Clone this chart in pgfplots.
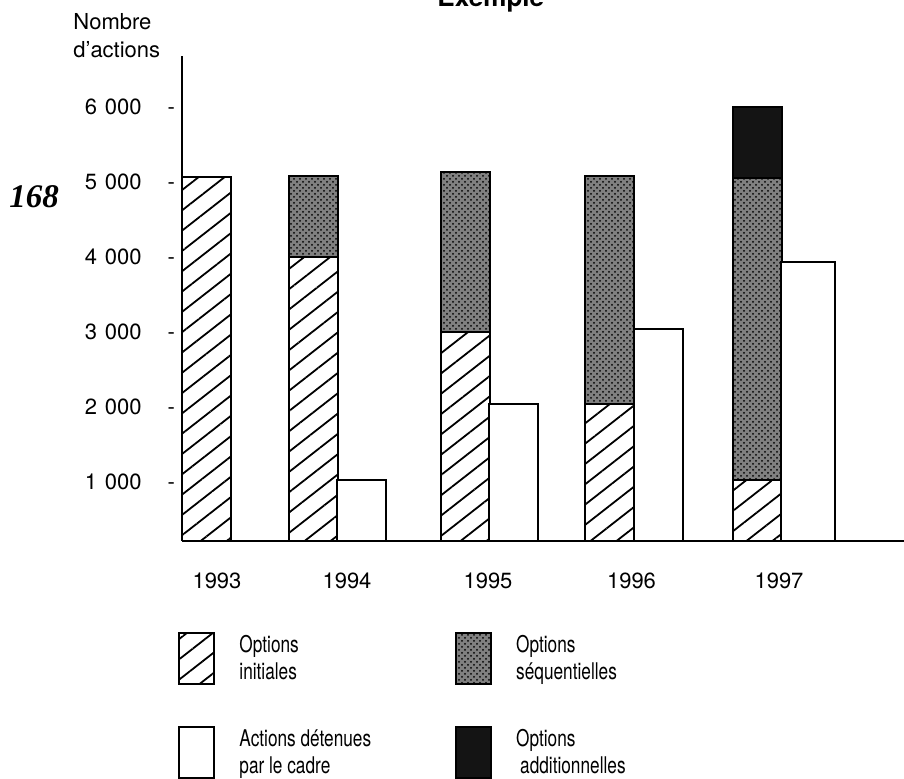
\documentclass[border=0pt]{standalone}
\usepackage{fontspec}
\setmainfont{TeX Gyre Heros}
\newfontfamily\narrowfont[FakeStretch=0.75]{TeX Gyre Heros}
\newfontfamily\serifit{Liberation Serif}
\usepackage{pgfplots}
\usepackage{pgfplotstable}
\pgfplotsset{compat=1.18}
\usetikzlibrary{patterns,patterns.meta}

\pgfplotstableread{
x init seq add
206.2 5063 0 0
313 4004 1080 0
465.4 3004 2125 0
609.5 2040 3040 0
757 1027 4026 947
}\options

\pgfplotstableread{
x held
361.5 1027
513.4 2040
658.4 3040
}\held

\tikzset{
 inistyle/.style={draw=black, line width=1pt, fill=white, postaction={pattern={Lines[angle=38,distance=8pt,line width=0.9pt]}}},
 seqstyle/.style={draw=black, line width=1pt, fill=black!50, postaction={pattern=crosshatch dots}},
 addstyle/.style={draw=black, line width=1pt, fill=black!92},
 heldstyle/.style={draw=black, line width=1pt, fill=white},
}

\begin{document}
\begin{tikzpicture}
\path[use as bounding box] (0,0) rectangle (452pt,389.5pt);
\begin{axis}[
  at={(91pt,119pt)}, anchor=south west,
  scale only axis, width=361pt, height=242.5pt,
  xmin=182, xmax=904, ymin=213.3, ymax=6680,
  axis x line=bottom, axis y line=left,
  axis line style={line width=1pt,-},
  major tick length=0pt,
  ytick={1000,2000,3000,4000,5000,6000},
  yticklabels={{1\hspace{0.35em}000\hspace{13pt}-},{2\hspace{0.35em}000\hspace{13pt}-},{3\hspace{0.35em}000\hspace{13pt}-},{4\hspace{0.35em}000\hspace{13pt}-},{5\hspace{0.35em}000\hspace{13pt}-},{6\hspace{0.35em}000\hspace{13pt}-}},
  xtick={217,347,488,631.5,779},
  xticklabels={1993,1994,1995,1996,1997},
  xticklabel style={yshift=-12.5pt},
  tick label style={font=\fontsize{11}{13}\selectfont},
  ybar stacked, bar width=49,
  axis on top,
]
\addplot[inistyle] table[x=x,y=init]{\options};
\addplot[seqstyle] table[x=x,y=seq]{\options};
\addplot[addstyle] table[x=x,y=add]{\options};
\end{axis}
\begin{axis}[
  at={(91pt,119pt)}, anchor=south west,
  scale only axis, width=361pt, height=242.5pt,
  xmin=182, xmax=904, ymin=213.3, ymax=6680,
  hide axis,
  ybar, bar width=49,
  legend image code/.code={\draw[#1] (0pt,-12.75pt) rectangle (17.5pt,12.75pt);},
  legend cell align=left,
  legend columns=2,
  legend style={at={(axis description cs:-0.0055,-0.1876)}, anchor=north west,
    draw=none, fill=none, inner sep=0pt, row sep=20.5pt,
    font={\fontsize{11.5}{13.5}\narrowfont},
    nodes={inner sep=0pt, align=left},
    /tikz/every odd column/.append style={column sep=12pt},
    /tikz/every even column/.append style={column sep=42pt}},
]
\addplot[heldstyle, bar shift=0pt, forget plot] table[x=x,y=held]{\held};
\addplot[heldstyle, bar shift=0pt, bar width=54, forget plot] coordinates {(808,3933)};
\addlegendimage{inistyle}
\addlegendentry{Options\\initiales}
\addlegendimage{seqstyle}
\addlegendentry{Options\\séquentielles}
\addlegendimage{heldstyle}
\addlegendentry{Actions détenues\\par le cadre}
\addlegendimage{addstyle}
\addlegendentry{Options\\\hspace{2pt}additionnelles}
\end{axis}
\node[anchor=base west, inner sep=0pt, align=left, font={\fontsize{11}{14}\selectfont}] at (36.5pt,360.5pt) {Nombre\\d'actions};
\node[anchor=base, inner sep=0pt, font={\fontsize{13}{15}\bfseries}] at (245.4pt,386pt) {Exemple};
\node[anchor=base west, inner sep=0pt, font={\fontsize{16.5}{18}\serifit\bfseries\itshape}] at (4.5pt,285.5pt) {168};
\end{tikzpicture}
\end{document}
